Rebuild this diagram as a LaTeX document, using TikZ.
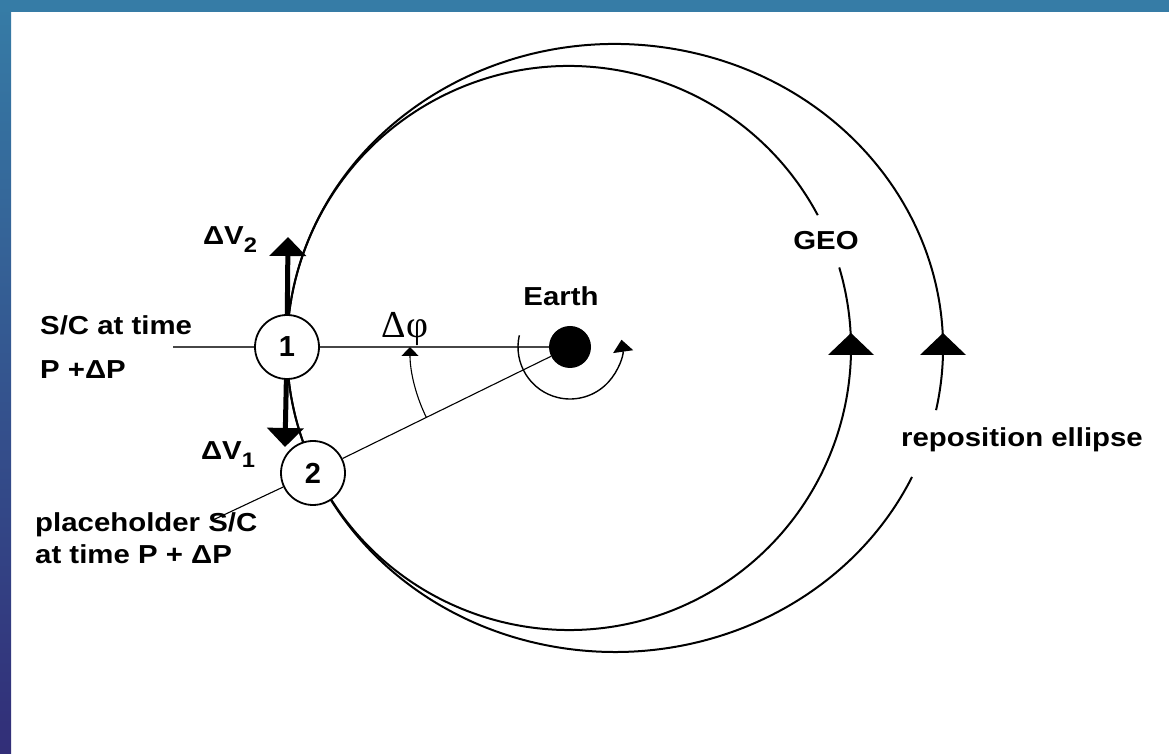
\documentclass[tikz,border=0pt]{standalone}
\usepackage{fontspec}
\newfontfamily\labelfont{Liberation Sans}
\newfontfamily\greekfont{Liberation Serif}
\usetikzlibrary{arrows.meta,positioning}
\definecolor{bandtop}{RGB}{54,124,166}
\definecolor{bandbottom}{RGB}{50,46,120}
\definecolor{axisgray}{RGB}{70,70,70}
\newcommand{\subidx}[1]{\raisebox{-8pt}{\fontsize{21}{21}\selectfont #1}}

\begin{document}
\begin{tikzpicture}[
    x=1pt, y=1pt,
    lbl/.style={font=\labelfont\bfseries\fontsize{26}{32}\selectfont, xscale=1.13, inner sep=0pt},
    craft/.style={draw, circle, line width=1.8pt, fill=white, minimum size=64pt, inner sep=0pt,
        font=\labelfont\bfseries\fontsize{29}{30}\selectfont},
    orbit/.style={line width=2pt},
    boost/.style={line width=5pt, -{Triangle[width=36pt,length=19pt]}},
    thinline/.style={line width=1.1pt},
    uptip/.pic={\fill (0,0) -- (-23,-22) -- (23,-22) -- cycle;}
  ]
  \useasboundingbox (0,0) rectangle (1169,754);
  % frame bands
  \shade[top color=bandtop, bottom color=bandbottom] (0,0) rectangle (11,754);
  \fill[bandtop] (0,742) rectangle (1169,754);

  % GEO circle and reposition ellipse, open where the labels sit
  \coordinate (geoc) at (569,406);
  \coordinate (ellc) at (615,406);
  \draw[orbit, shift={(geoc)}] (28.1:282) arc[start angle=28.1, end angle=376.6, radius=282];
  \draw[orbit, shift={(ellc)}] (-11.8:328 and 304) arc[start angle=-11.8, end angle=334.9, x radius=328, y radius=304];
  \pic at (851,421) {uptip};
  \pic at (943,421) {uptip};

  \node[fill, circle, minimum size=42pt, inner sep=0pt] (earth) at (570,407) {};
  \node[craft] (sc1) at (287,407) {1};
  \node[craft] (sc2) at (313,281) {2};
  \coordinate (axisend) at (173,407);
  \coordinate (slantend) at (213,234);
  \coordinate (dv2tip) at (288,517);
  \coordinate (dv1tip) at (285,307);

  \draw[axisgray, line width=1.8pt] (axisend) -- (sc1) -- (earth);
  \draw[thinline] (earth) -- (sc2) -- (slantend);
  \draw[boost] (sc1) -- (dv2tip);
  \draw[boost] (sc1) -- (dv1tip);

  % phase angle and Earth rotation
  \draw[thinline, -{Triangle[width=17pt,length=9pt]}] ([shift={(206.1:160)}]earth.center)
      arc[start angle=206.1, end angle=180, radius=160];
  \draw[line width=1.4pt, -{Triangle[width=20pt,length=12pt]}] ([shift={(167:52)}]earth.center)
      arc[start angle=167, end angle=368, radius=52];

  % labels
  \node[lbl] (earthlbl) at (561,458) {Earth};
  \node[lbl] (geolbl) at (826,513) {GEO};
  \node[lbl] (replbl) at (1022,314) {reposition ellipse};
  \node[font=\greekfont\fontsize{38}{40}\selectfont, inner sep=0pt] (dphi) at (405,425) {Δφ};
  \node[lbl] (dv2lbl) at (230,514) {ΔV\subidx{2}};
  \node[lbl] (dv1lbl) at (228,299) {ΔV\subidx{1}};
  \node[lbl, anchor=north west, align=left] (sclbl) at (40,439) {S/C at time\\[12pt]P +ΔP};
  \node[lbl, anchor=north west, align=left] (phlbl) at (35,242) {placeholder S/C\\at time P + ΔP};
\end{tikzpicture}
\end{document}
